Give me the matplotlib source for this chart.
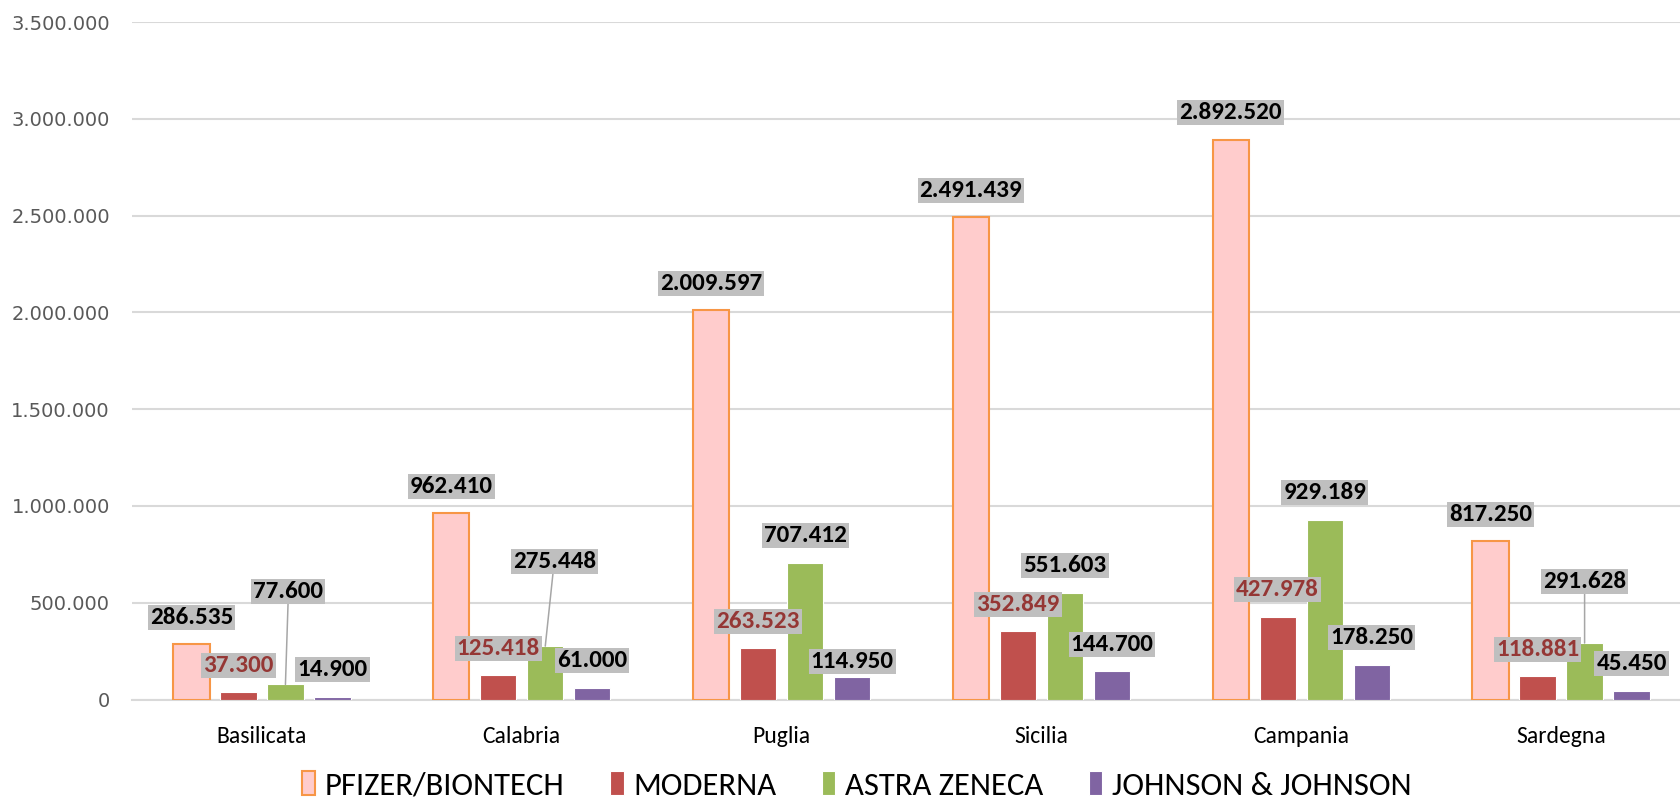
import matplotlib.pyplot as plt
import numpy as np

# Data
regions = ['Basilicata', 'Calabria', 'Puglia', 'Sicilia', 'Campania', 'Sardegna']
pfizer = [286535, 962410, 2009597, 2491439, 2892520, 817250]
moderna = [37300, 125418, 263523, 352849, 427978, 118881]
astra = [77600, 275448, 707412, 551603, 929189, 291628]
johnson = [14900, 61000, 114950, 144700, 178250, 45450]
series_names = ['PFIZER/BIONTECH', 'MODERNA', 'ASTRA ZENECA', 'JOHNSON & JOHNSON']
y_ticks = [0, 500000, 1000000, 1500000, 2000000, 2500000, 3000000, 3500000]

fills = ['#FFCCCC', '#C0504D', '#9BBB59', '#8064A2']
edges = ['#F79646', 'white', 'white', 'white']
label_colors = ['black', '#953735', 'black', 'black']

# labels that were moved by hand in the original (series, region) -> pixel offset
moved = {(2, 0): (3, 93), (2, 1): (9, 85), (3, 2): (0, 16), (2, 5): (0, 62)}
leader = {(2, 0), (2, 1), (2, 5)}

calibri = ['Carlito', 'Liberation Sans', 'DejaVu Sans']


def fmt(v):
    return f'{v:,}'.replace(',', '.')


fig = plt.figure(figsize=(16.8, 8), dpi=100)
ax = fig.add_axes([132 / 1680, 100.5 / 800, 1559 / 1680, 677.5 / 800])

x = np.arange(len(regions))
step = 0.181
width = 0.14
all_series = [pfizer, moderna, astra, johnson]

for i, vals in enumerate(all_series):
    pos = x + (i - 1.5) * step
    lw = 1.5 if i == 0 else 0.8
    ax.bar(pos, vals, width, color=fills[i], edgecolor=edges[i], linewidth=lw,
           label=series_names[i], zorder=3)
    for j, v in enumerate(vals):
        dx, dy = moved.get((i, j), (0, 27))
        arrow = None
        if (i, j) in leader:
            arrow = dict(arrowstyle='-', color='#A6A6A6', lw=1.1, shrinkA=0, shrinkB=0)
        ax.annotate(fmt(v), xy=(pos[j], v), xytext=(dx, dy), textcoords='offset pixels',
                    ha='center', va='center', fontsize=18, fontweight='bold',
                    family=calibri, color=label_colors[i], zorder=5,
                    bbox=dict(boxstyle='square,pad=0.08', fc='#BFBFBF', ec='none'),
                    arrowprops=arrow)

ax.set_xlim(-0.5, 5.5)
ax.set_ylim(0, 3500000)
ax.set_yticks(y_ticks)
ax.set_yticklabels([fmt(t) for t in y_ticks], fontsize=14, color='#595959',
                   family='DejaVu Sans')
ax.set_xticks(x)
ax.set_xticklabels(regions, fontsize=17, family=calibri, color='black')
ax.tick_params(axis='both', length=0)
ax.tick_params(axis='y', pad=16)
ax.tick_params(axis='x', pad=19)
ax.grid(axis='y', color='#D9D9D9', linewidth=1.5, zorder=0)
for s in ['top', 'right', 'left']:
    ax.spines[s].set_visible(False)
ax.spines['bottom'].set_color('#D9D9D9')
ax.spines['bottom'].set_linewidth(1.5)

fig.legend(loc='center', bbox_to_anchor=(0.51, 0.018), ncol=4, frameon=False,
           prop={'family': calibri, 'size': 23.5}, handlelength=0.4, handleheight=0.74,
           handletextpad=0.3, columnspacing=1.4)

fig.savefig('out.png', dpi=100)
